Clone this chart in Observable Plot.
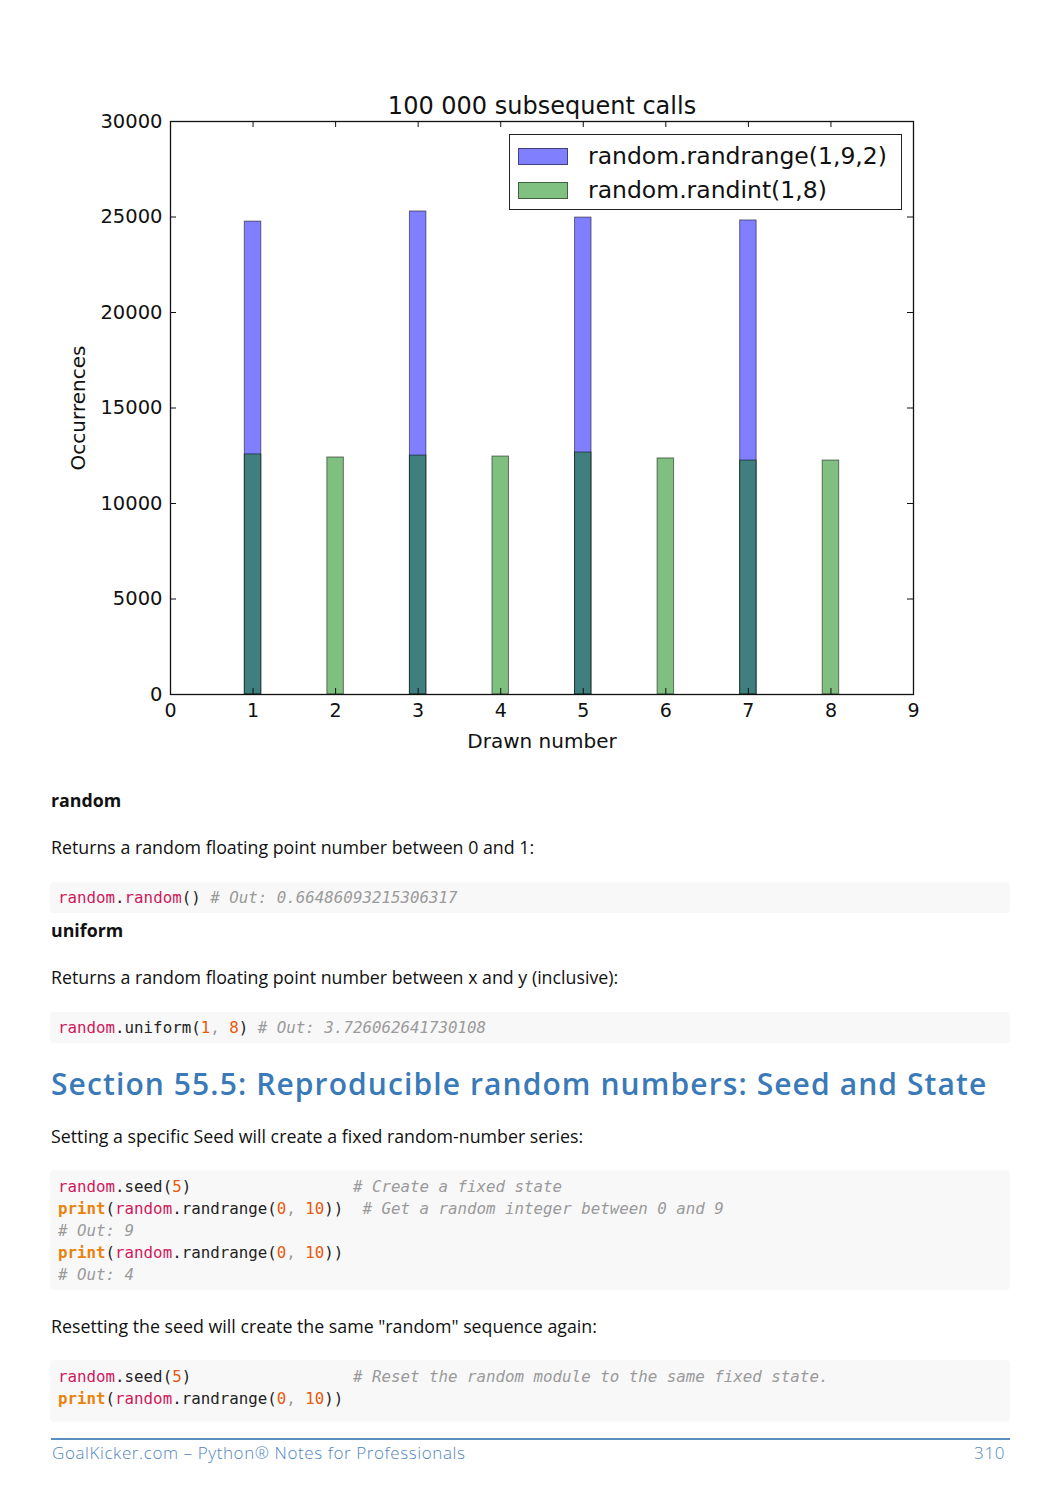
<!DOCTYPE html>
<html>
<head>
<meta charset="utf-8">
<script src="https://cdn.jsdelivr.net/npm/d3@7"></script>
<script src="https://cdn.jsdelivr.net/npm/@observablehq/plot@0.6"></script>
<style>
  html, body { margin: 0; padding: 0; background: #fff; }
  #page { position: relative; width: 1060px; height: 1500px; overflow: hidden; }
  #chart { position: absolute; left: 0; top: 0; }
  .legend { position: absolute; left: 509px; top: 134px; width: 391px; height: 74px; border: 1.5px solid #222; background: #fff; font-family: "DejaVu Sans"; font-size: 23.5px; color: #111; }
  .legend .row { position: absolute; left: 8px; height: 30px; display: flex; align-items: center; }
  .legend .sw { width: 48px; height: 15px; border: 1px solid rgba(0,0,0,0.5); margin-right: 20px; }
  .txt { position: absolute; left: 51px; font-family: "Open Sans"; font-size: 17.8px; color: #111; white-space: nowrap; }
  .bold { font-weight: 700; }
  .code { position: absolute; left: 50px; width: 960px; background: #f8f8f9; border-radius: 4px; font-family: "DejaVu Sans Mono"; font-size: 15.8px; color: #222; white-space: pre; }
  .code .ln { height: 22px; line-height: 22px; padding-left: 8px; }
  .r { color: #d0185a; }
  .p { color: #e8820e; font-weight: bold; }
  .n { color: #e8590c; }
  .c { color: #9a9a9a; font-style: italic; }
  .g { color: #999; }
  .h2 { position: absolute; left: 51px; font-family: "Open Sans"; font-weight: 600; font-size: 30px; letter-spacing: 1.1px; color: #3a7ab8; white-space: nowrap; }
  .rule { position: absolute; left: 51px; width: 959px; height: 2px; background: #5a8dc0; }
  .foot { position: absolute; font-family: "Open Sans"; font-weight: 300; font-size: 17px; letter-spacing: 0.6px; color: #4f86bd; white-space: nowrap; }
</style>
</head>
<body>
<div id="page">
  <div id="chart"></div>
  <div class="legend">
    <div class="row" style="top:6px"><div class="sw" style="background:#8080ff"></div><span id="lg1"></span></div>
    <div class="row" style="top:40px"><div class="sw" style="background:#80c080"></div><span id="lg2"></span></div>
  </div>

  <div class="txt bold" style="top:788px">random</div>
  <div class="txt" style="top:835px">Returns a random floating point number between 0 and 1:</div>
  <div class="code" style="top:882px;height:31px;padding-top:5px;box-sizing:border-box"><div class="ln"><span class="r">random</span>.<span class="r">random</span>() <span class="c"># Out: 0.66486093215306317</span></div></div>
  <div class="txt bold" style="top:918px">uniform</div>
  <div class="txt" style="top:965px">Returns a random floating point number between x and y (inclusive):</div>
  <div class="code" style="top:1012px;height:31px;padding-top:5px;box-sizing:border-box"><div class="ln"><span class="r">random</span>.uniform(<span class="n">1</span><span class="g">, </span><span class="n">8</span>) <span class="c"># Out: 3.726062641730108</span></div></div>

  <div class="h2" style="top:1063px">Section 55.5: Reproducible random numbers: Seed and State</div>
  <div class="txt" style="top:1124px">Setting a specific Seed will create a fixed random-number series:</div>
  <div class="code" style="top:1170px;height:120px;padding-top:6px;box-sizing:border-box"><div class="ln"><span class="r">random</span>.seed(<span class="n">5</span>)                 <span class="c"># Create a fixed state</span></div><div class="ln"><span class="p">print</span>(<span class="r">random</span>.randrange(<span class="n">0</span><span class="g">, </span><span class="n">10</span>))  <span class="c"># Get a random integer between 0 and 9</span></div><div class="ln"><span class="c"># Out: 9</span></div><div class="ln"><span class="p">print</span>(<span class="r">random</span>.randrange(<span class="n">0</span><span class="g">, </span><span class="n">10</span>))</div><div class="ln"><span class="c"># Out: 4</span></div></div>
  <div class="txt" style="top:1314px">Resetting the seed will create the same "random" sequence again:</div>
  <div class="code" style="top:1360px;height:62px;padding-top:6px;box-sizing:border-box"><div class="ln"><span class="r">random</span>.seed(<span class="n">5</span>)                 <span class="c"># Reset the random module to the same fixed state.</span></div><div class="ln"><span class="p">print</span>(<span class="r">random</span>.randrange(<span class="n">0</span><span class="g">, </span><span class="n">10</span>))</div></div>

  <div class="rule" style="top:1438px"></div>
  <div class="foot" style="left:52px;top:1441px">GoalKicker.com – Python® Notes for Professionals</div>
  <div class="foot" style="right:55px;top:1441px">310</div>
</div>
<script>
// ---- data ----
const randrangeValues = [1, 3, 5, 7];
const randrangeCounts = [24760, 25290, 24970, 24820];
const randintValues = [1, 2, 3, 4, 5, 6, 7, 8];
const randintCounts = [12570, 12410, 12510, 12460, 12670, 12360, 12250, 12250];
const xTicks = [0, 1, 2, 3, 4, 5, 6, 7, 8, 9];
const yTicks = [0, 5000, 10000, 15000, 20000, 25000, 30000];
const seriesNames = ["random.randrange(1,9,2)", "random.randint(1,8)"];
const chartTitle = "100 000 subsequent calls";
const xLabel = "Drawn number";
const yLabel = "Occurrences";
const binHalfWidth = 0.1;

document.getElementById("lg1").textContent = seriesNames[0];
document.getElementById("lg2").textContent = seriesNames[1];

const blueData = randrangeValues.map((n, i) => ({n, count: randrangeCounts[i]}));
const greenData = randintValues.map((n, i) => ({n, count: randintCounts[i]}));

const W = 1060, H = 770, mT = 121, mB = 76, mL = 170, mR = 147;
const fw = W - mL - mR, fh = H - mT - mB;

const chart = Plot.plot({
  width: W, height: H,
  marginTop: mT, marginBottom: mB, marginLeft: mL, marginRight: mR,
  style: {fontFamily: "'DejaVu Sans'", fontSize: "19px", color: "#111", background: "transparent", overflow: "visible"},
  x: {type: "linear", domain: [0, 9]},
  y: {type: "linear", domain: [0, 30000]},
  marks: [
    Plot.rectY(blueData, {x1: d => d.n - binHalfWidth, x2: d => d.n + binHalfWidth, y1: 0, y2: "count", fill: "blue", fillOpacity: 0.5, stroke: "black", strokeOpacity: 0.5, strokeWidth: 1}),
    Plot.rectY(greenData, {x1: d => d.n - binHalfWidth, x2: d => d.n + binHalfWidth, y1: 0, y2: "count", fill: "green", fillOpacity: 0.5, stroke: "black", strokeOpacity: 0.5, strokeWidth: 1}),
    Plot.frame({stroke: "#111", strokeWidth: 1.3}),
    Plot.tickX(xTicks, {x: d => d, insetTop: fh - 6, stroke: "#111"}),
    Plot.tickX(xTicks, {x: d => d, insetBottom: fh - 6, stroke: "#111"}),
    Plot.tickY(yTicks, {y: d => d, insetRight: fw - 6, stroke: "#111"}),
    Plot.tickY(yTicks, {y: d => d, insetLeft: fw - 6, stroke: "#111"}),
    Plot.axisX(xTicks, {tickSize: 0, tickPadding: 9, label: null, tickFormat: d => String(d), fontSize: 19}),
    Plot.axisY(yTicks, {tickSize: 0, tickPadding: 8, label: null, tickFormat: d => String(d), fontSize: 19.5}),
    Plot.text([xLabel], {frameAnchor: "bottom", lineAnchor: "middle", dy: 47, fontSize: 20, fill: "#111"}),
    Plot.text([yLabel], {frameAnchor: "left", textAnchor: "middle", lineAnchor: "middle", rotate: -90, dx: -92, fontSize: 20, fill: "#111"}),
    Plot.text([chartTitle], {frameAnchor: "top", lineAnchor: "middle", dy: -15, fontSize: 24, fill: "#111"})
  ]
});
document.getElementById("chart").appendChild(chart);
</script>
</body>
</html>
